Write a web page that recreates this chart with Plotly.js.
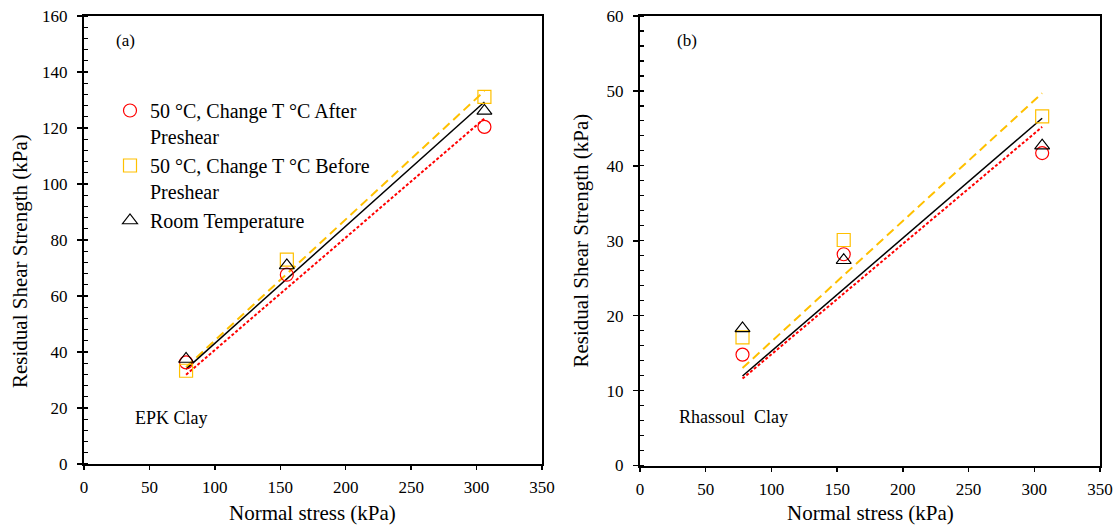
<!DOCTYPE html>
<html>
<head>
<meta charset="utf-8">
<script src="https://cdn.plot.ly/plotly-3.0.1.min.js"></script>
<style>html,body{margin:0;padding:0;background:#fff;}#chart{width:1120px;height:528px;}</style>
</head>
<body>
<div id="chart"></div>
<script>
// Normal stress (kPa)
const xStress = [78, 155, 306];
const fitX = [78, 306];

// Panel (a) EPK Clay - residual shear strength (kPa)
const aAfter  = [36.3, 67.6, 120.4];
const aBefore = [33.3, 73.0, 131.1];
const aRoom   = [37.5, 70.9, 126.1];
const aFitAfter  = [31.9, 123.4];
const aFitBefore = [34.6, 133.2];
const aFitRoom   = [33.9, 129.3];

// Panel (b) Rhassoul Clay - residual shear strength (kPa)
const bAfter  = [14.8, 28.2, 41.7];
const bBefore = [17.1, 30.1, 46.6];
const bRoom   = [18.3, 27.4, 42.7];
const bFitAfter  = [11.6, 45.2];
const bFitBefore = [13.0, 49.7];
const bFitRoom   = [11.95, 46.35];

const seriesNames = ["50 °C, Change T °C After<br>Preshear", "50 °C, Change T °C Before<br>Preshear", "Room Temperature"];

const RED = "#FF0000", GOLD = "#FFC000", BLACK = "#000000";
const FONT = "Liberation Serif";

function fit(y, color, dash, width, xa, ya) {
  return {x: fitX, y: y, mode: "lines", xaxis: xa, yaxis: ya, showlegend: false, hoverinfo: "skip",
          line: {color: color, dash: dash, width: width}};
}
function pts(y, name, symbol, color, xa, ya, legend) {
  return {x: xStress, y: y, mode: "markers", name: name, xaxis: xa, yaxis: ya, showlegend: legend,
          marker: {symbol: symbol, size: 13, color: color, line: {color: color, width: 1.2}}};
}

const data = [
  fit(aFitBefore, GOLD, "9px,5px", 2, "x", "y"),
  fit(aFitRoom, BLACK, "solid", 1.5, "x", "y"),
  fit(aFitAfter, RED, "3px,2px", 2, "x", "y"),
  pts(aAfter, seriesNames[0], "circle-open", RED, "x", "y", true),
  pts(aBefore, seriesNames[1], "square-open", GOLD, "x", "y", true),
  pts(aRoom, seriesNames[2], "triangle-up-open", BLACK, "x", "y", true),
  fit(bFitBefore, GOLD, "9px,5px", 2, "x2", "y2"),
  fit(bFitRoom, BLACK, "solid", 1.5, "x2", "y2"),
  fit(bFitAfter, RED, "3px,2px", 2, "x2", "y2"),
  pts(bAfter, seriesNames[0], "circle-open", RED, "x2", "y2", false),
  pts(bBefore, seriesNames[1], "square-open", GOLD, "x2", "y2", false),
  pts(bRoom, seriesNames[2], "triangle-up-open", BLACK, "x2", "y2", false)
];

const W = 1120, H = 528;
const px = v => v / W, py = v => 1 - v / H;

function xAxis(domain, anchor) {
  return {domain: domain, anchor: anchor, range: [0, 350], dtick: 50, tick0: 0,
          showline: true, linewidth: 2, linecolor: BLACK, mirror: true,
          ticks: "outside", ticklen: 4, tickwidth: 1.5, tickcolor: BLACK,
          showgrid: false, zeroline: false, fixedrange: true, automargin: false,
          ticklabelstandoff: 3,
          tickfont: {family: FONT, size: 17, color: BLACK}};
}
function yAxis(domain, anchor, max, dt, mdt) {
  return {domain: domain, anchor: anchor, range: [0, max], dtick: dt, tick0: 0,
          showline: true, linewidth: 2, linecolor: BLACK, mirror: true,
          ticks: "outside", ticklen: 5, tickwidth: 1.5, tickcolor: BLACK,
          minor: {dtick: mdt, ticks: "inside", ticklen: 4, tickwidth: 1.2, tickcolor: BLACK, showgrid: false},
          showgrid: false, zeroline: false, fixedrange: true, automargin: false,
          ticklabelstandoff: 6,
          tickfont: {family: FONT, size: 17, color: BLACK}};
}
function innerTicks(base, anchor, range, dt, len) {
  return {overlaying: base, anchor: anchor, range: range, dtick: dt, tick0: 0,
          ticks: "inside", ticklen: len, tickwidth: 1.5, tickcolor: BLACK,
          showticklabels: false, showline: false, showgrid: false, zeroline: false, fixedrange: true};
}

function note(text, x, y, size, angle) {
  return {text: text, x: px(x), y: py(y), xref: "paper", yref: "paper", xanchor: "center", yanchor: "middle",
          textangle: angle || 0, showarrow: false, font: {family: FONT, size: size, color: BLACK}};
}
const layout = {
  width: W, height: H,
  margin: {l: 0, r: 0, t: 0, b: 0},
  paper_bgcolor: "#fff", plot_bgcolor: "#fff",
  font: {family: FONT, color: BLACK},
  xaxis: xAxis([px(84), px(542)], "y"),
  yaxis: yAxis([py(464), py(16)], "x", 160, 20, 4),
  xaxis2: xAxis([px(640), px(1100)], "y2"),
  yaxis2: yAxis([py(465.5), py(16)], "x2", 60, 10, 2),
  xaxis3: innerTicks("x", "y", [0, 350], 50, 5),
  yaxis3: innerTicks("y", "x", [0, 160], 20, 4),
  xaxis4: innerTicks("x2", "y2", [0, 350], 50, 5),
  yaxis4: innerTicks("y2", "x2", [0, 60], 10, 4),
  showlegend: true,
  legend: {x: px(110), y: py(91), xanchor: "left", yanchor: "top", bgcolor: "rgba(0,0,0,0)",
           borderwidth: 0, valign: "top", font: {family: FONT, size: 20, color: BLACK}},
  annotations: [
    note("Residual Shear Strength (kPa)", 20, 261, 21, -90),
    note("Residual Shear Strength (kPa)", 580, 240.5, 21, -90),
    note("Normal stress (kPa)", 312.5, 513, 21),
    note("Normal stress (kPa)", 870, 513, 21),
    note("(a)", 125, 40, 17),
    note("(b)", 686.5, 40, 17),
    note("EPK Clay", 171.5, 418, 18),
    note("Rhassoul\u00A0 Clay", 733.5, 417, 18)
  ]
};

Plotly.newPlot("chart", data, layout, {staticPlot: true, displayModeBar: false});
</script>
</body>
</html>
